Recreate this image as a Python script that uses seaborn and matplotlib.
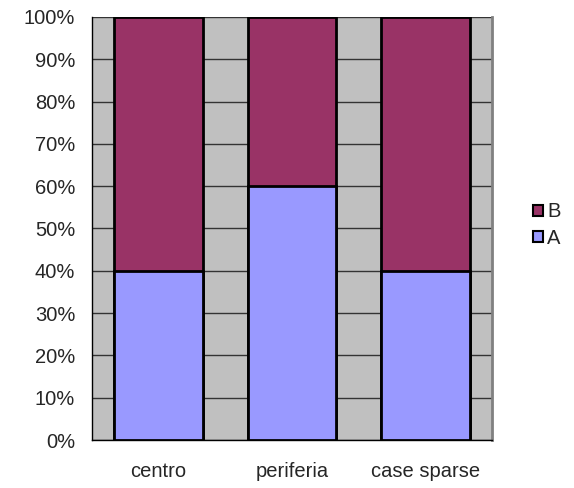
import seaborn as sns
import matplotlib.pyplot as plt
import pandas as pd
from matplotlib.patches import Patch
from matplotlib.ticker import FixedLocator

categories = ["centro", "periferia", "case sparse"]
a_share = [40, 60, 40]
b_share = [60, 40, 60]

df = pd.DataFrame({"zona": categories, "A": a_share, "B": b_share})
df["tot"] = df["A"] + df["B"]

sns.set_style("white")
plt.rcParams["font.family"] = ["Liberation Sans", "DejaVu Sans"]

fig = plt.figure(figsize=(5.74, 4.88), dpi=100)
ax = fig.add_axes([92 / 574, 48 / 488, 400 / 574, 423 / 488])
ax.set_facecolor("#C0C0C0")

col_a = "#9999FF"
col_b = "#993366"

sns.barplot(data=df, x="zona", y="tot", color=col_b, width=0.667,
            edgecolor="black", linewidth=2, saturation=1, ax=ax, zorder=3)
sns.barplot(data=df, x="zona", y="A", color=col_a, width=0.667,
            edgecolor="black", linewidth=2, saturation=1, ax=ax, zorder=3)

fs = 14.5
ax.set_ylim(0, 100)
ax.set_xlim(-0.5, 2.5)
ax.set_yticks(range(0, 101, 10))
ax.set_yticklabels([f"{v}%" for v in range(0, 101, 10)], fontsize=fs)
ax.yaxis.grid(True, color="#333333", linewidth=1, zorder=0)
ax.set_axisbelow(True)
ax.set_xlabel("")
ax.set_ylabel("")
ax.tick_params(axis="x", which="major", length=0, labelsize=fs, pad=16)
ax.xaxis.set_minor_locator(FixedLocator([-0.5, 0.5, 1.5, 2.5]))
ax.tick_params(axis="x", which="minor", length=5, width=1, color="black", direction="out")
ax.tick_params(axis="y", length=3.6, width=1, color="black", direction="out", pad=8.5)

for s in ["left", "bottom"]:
    ax.spines[s].set_color("black")
    ax.spines[s].set_linewidth(1)
ax.spines["right"].set_color("#808080")
ax.spines["right"].set_linewidth(2)
ax.spines["top"].set_visible(False)

handles = [Patch(facecolor=col_b, edgecolor="black", linewidth=1.5, label="B"),
           Patch(facecolor=col_a, edgecolor="black", linewidth=1.5, label="A")]
fig.legend(handles=handles, loc="center left", bbox_to_anchor=(533 / 574, 1 - 225 / 488),
           frameon=False, fontsize=fs, handlelength=0.5, handleheight=0.5,
           handletextpad=0.2, labelspacing=0.35, borderpad=0, borderaxespad=0)

fig.savefig("out.png", dpi=100)
